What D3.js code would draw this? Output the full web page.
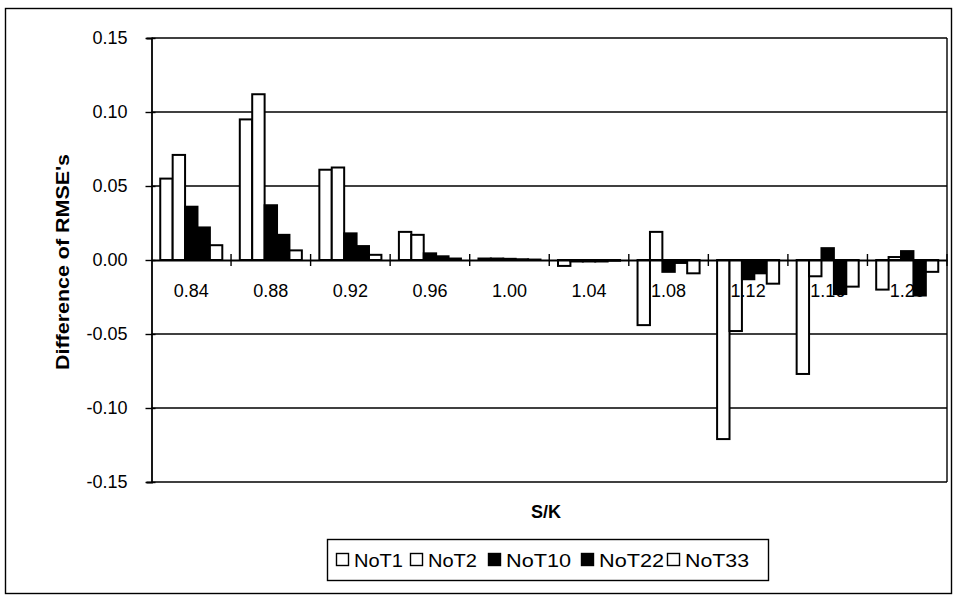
<!DOCTYPE html>
<html>
<head>
<meta charset="utf-8">
<script src="https://cdn.jsdelivr.net/npm/d3@7"></script>
<style>
  html, body { margin: 0; padding: 0; background: #fff; }
  svg { display: block; font-family: "Liberation Sans", Arial, Helvetica, sans-serif; }
</style>
</head>
<body>
<svg id="chart" width="954" height="596"></svg>
<script>
const categories = ["0.84","0.88","0.92","0.96","1.00","1.04","1.08","1.12","1.16","1.20"];
const seriesNames = ["NoT1","NoT2","NoT10","NoT22","NoT33"];
const NoT1  = [0.055, 0.095, 0.061, 0.019, 0.001, -0.004, -0.044, -0.121, -0.077, -0.020];
const NoT2  = [0.071, 0.112, 0.0625, 0.017, 0.001, -0.001, 0.019, -0.048, -0.011, 0.002];
const NoT10 = [0.036, 0.037, 0.018, 0.0045, 0.0008, -0.001, -0.008, -0.013, 0.008, 0.006];
const NoT22 = [0.022, 0.017, 0.0094, 0.0025, 0.0005, -0.001, -0.002, -0.009, -0.023, -0.024];
const NoT33 = [0.010, 0.0065, 0.0035, 0.001, 0.0003, -0.0005, -0.009, -0.016, -0.018, -0.008];
const yTicks = [-0.15, -0.10, -0.05, 0.00, 0.05, 0.10, 0.15];
const seriesFill = ["#fff", "#fff", "#000", "#000", "#fff"];

const seriesData = [NoT1, NoT2, NoT10, NoT22, NoT33];

const svg = d3.select("#chart");

// outer chart frame
svg.append("rect").attr("x", 5.5).attr("y", 8.5).attr("width", 946).attr("height", 585)
  .attr("fill", "none").attr("stroke", "#000").attr("stroke-width", 1.4);

const plot = { left: 151.5, right: 947, top: 38, bottom: 482 };

const y = d3.scaleLinear().domain([-0.15, 0.15]).range([plot.bottom, plot.top]);
const x0 = d3.scaleBand().domain(categories).range([plot.left, plot.right]).padding(0);
const bw = x0.bandwidth();
const x1 = d3.scaleBand().domain(seriesNames).range([bw * 0.11, bw * 0.89]).padding(0);

// gridlines
svg.append("g").selectAll("line").data(yTicks.filter(d => d !== 0)).join("line")
  .attr("x1", plot.left).attr("x2", plot.right)
  .attr("y1", d => y(d)).attr("y2", d => y(d))
  .attr("stroke", "#000").attr("stroke-width", 1.6);

// plot area border (right side)
svg.append("line").attr("x1", plot.right).attr("x2", plot.right)
  .attr("y1", plot.top).attr("y2", plot.bottom).attr("stroke", "#000").attr("stroke-width", 1.4);

// bars
const groups = svg.append("g").selectAll("g").data(categories).join("g")
  .attr("transform", d => `translate(${x0(d)},0)`);
groups.selectAll("rect").data((c, ci) => seriesNames.map((s, si) => ({ s, si, v: seriesData[si][ci] })))
  .join("rect")
  .attr("x", d => x1(d.s))
  .attr("width", x1.bandwidth())
  .attr("y", d => y(Math.max(0, d.v)))
  .attr("height", d => Math.abs(y(d.v) - y(0)))
  .attr("fill", d => seriesFill[d.si])
  .attr("stroke", "#000").attr("stroke-width", 2);

// y axis
const yAxis = d3.axisLeft(y).tickValues(yTicks).tickFormat(d3.format(".2f")).tickSize(5).tickPadding(19);
const gy = svg.append("g").attr("transform", `translate(${plot.left},0)`).call(yAxis);
gy.select(".domain").attr("stroke", "#000").attr("stroke-width", 1.8);
gy.selectAll(".tick line").attr("stroke", "#000").attr("stroke-width", 1.4).attr("x2", -6).attr("x1", 4);
gy.selectAll(".tick text").attr("font-size", 18).attr("fill", "#000")
  .text(d => d3.format(".2f")(d).replace("−", "-"));

// x axis along zero
const xAxis = d3.axisBottom(x0).tickSize(0).tickPadding(0);
const gx = svg.append("g").attr("transform", `translate(0,${y(0)})`).call(xAxis);
gx.select(".domain").attr("stroke", "#000").attr("stroke-width", 1.8);
gx.selectAll(".tick text").attr("font-size", 18).attr("fill", "#000").attr("dy", null).attr("y", 37);
// boundary tick marks crossing the zero line
const bounds = categories.map(c => x0(c)).concat([plot.right]);
svg.append("g").selectAll("line").data(bounds.slice(1)).join("line")
  .attr("x1", d => d).attr("x2", d => d)
  .attr("y1", y(0) - 6).attr("y2", y(0) + 6)
  .attr("stroke", "#000").attr("stroke-width", 1.4);

// axis titles
svg.append("text").attr("transform", `translate(69,${(plot.top + plot.bottom) / 2 + 2}) rotate(-90)`)
  .attr("text-anchor", "middle").attr("font-weight", "bold").attr("font-size", 18)
  .attr("textLength", 216).attr("lengthAdjust", "spacingAndGlyphs")
  .text("Difference of RMSE's");
svg.append("text").attr("x", 546).attr("y", 518).attr("text-anchor", "middle")
  .attr("font-weight", "bold").attr("font-size", 18).text("S/K");

// legend
const legend = svg.append("g");
legend.append("rect").attr("x", 327.5).attr("y", 539.5).attr("width", 441).attr("height", 41)
  .attr("fill", "#fff").attr("stroke", "#000").attr("stroke-width", 1.4);
const legendX = [336, 410, 488, 581, 667];
const legendW = [49, 49, 65, 65, 64];
seriesNames.forEach((s, i) => {
  legend.append("rect").attr("x", legendX[i] + 0.5).attr("y", 553.5).attr("width", 12).attr("height", 12)
    .attr("fill", seriesFill[i]).attr("stroke", "#000").attr("stroke-width", 1.4);
  legend.append("text").attr("x", legendX[i] + 18).attr("y", 567).attr("font-size", 19)
    .attr("textLength", legendW[i]).attr("lengthAdjust", "spacingAndGlyphs").text(s);
});
</script>
</body>
</html>
